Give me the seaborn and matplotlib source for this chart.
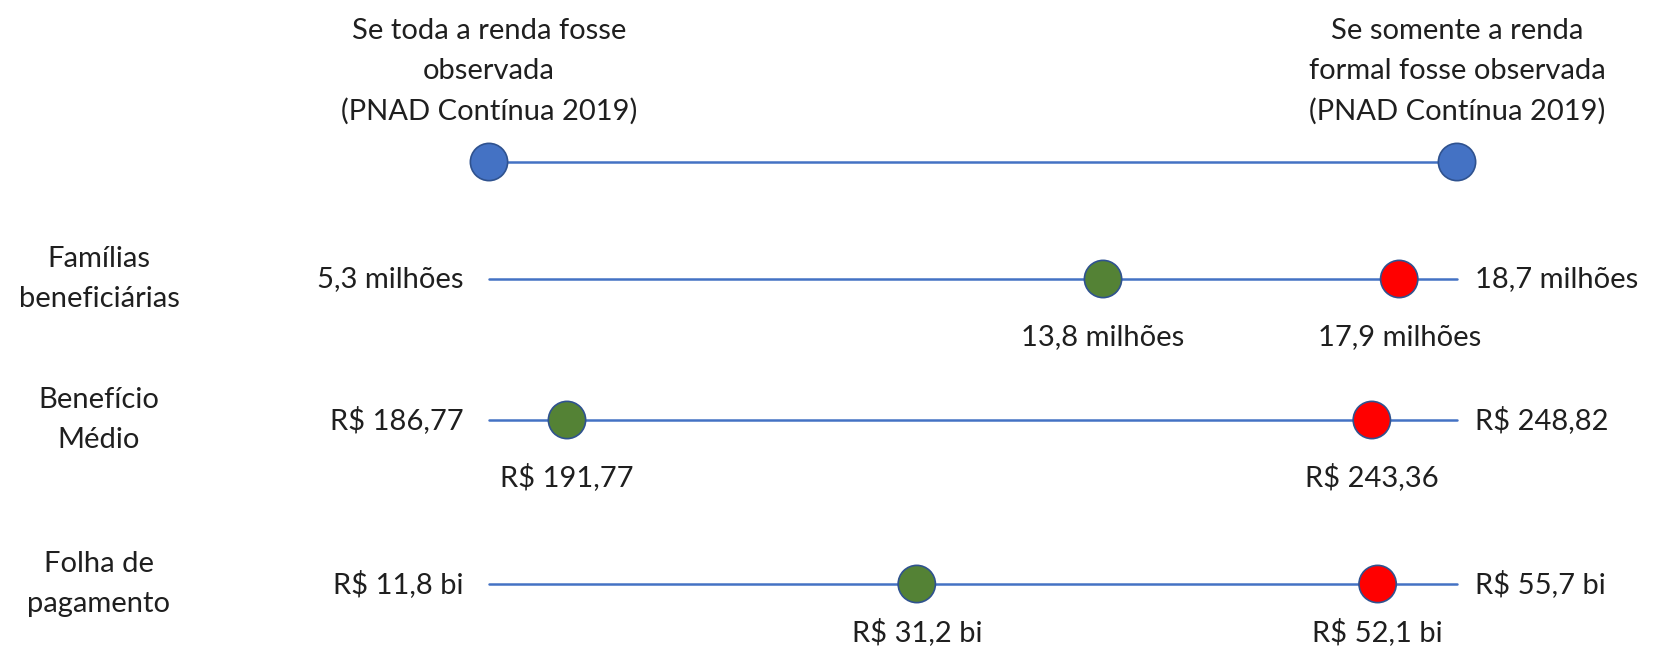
import matplotlib
matplotlib.use("Agg")
import numpy as np
import pandas as pd
import matplotlib.pyplot as plt
import seaborn as sns

# --- Dados ---
categorias = ["Famílias\nbeneficiárias", "Benefício\nMédio", "Folha de\npagamento"]
valor_min = [5.3, 186.77, 11.8]          # se toda a renda fosse observada
valor_max = [18.7, 248.82, 55.7]         # se somente a renda formal fosse observada
valor_verde = [13.8, 191.77, 31.2]
valor_vermelho = [17.9, 243.36, 52.1]
rotulo_min = ["5,3 milhões", "R$ 186,77", "R$ 11,8 bi"]
rotulo_max = ["18,7 milhões", "R$ 248,82", "R$ 55,7 bi"]
rotulo_verde = ["13,8 milhões", "R$ 191,77", "R$ 31,2 bi"]
rotulo_vermelho = ["17,9 milhões", "R$ 243,36", "R$ 52,1 bi"]
cabecalhos = ["Se toda a renda fosse\nobservada\n(PNAD Contínua 2019)",
              "Se somente a renda\nformal fosse observada\n(PNAD Contínua 2019)"]

# --- Layout ---
W, H = 1657, 647
LINHA_Y = [162, 279, 420, 584]     # linha do cabeçalho + 3 indicadores (pixels)
X0_PX, X1_PX = 489, 1457           # onde ficam 0 e 1 da escala normalizada
DESLOC_ROTULO = [58, 57, 48]       # distância do rótulo abaixo da bolinha (px)
COR_LINHA = "#4472C4"
CORES = {"azul": "#4472C4", "verde": "#548235", "vermelho": "#FF0000"}
COR_TEXTO = "#1f1f1f"
FONTE = 21
ESPACO = 1.65

sns.set_theme(style="white")
plt.rcParams["font.family"] = ["Lato", "DejaVu Sans"]

fig = plt.figure(figsize=(W / 100, H / 100), dpi=100)
ax = fig.add_axes([0, 0, 1, 1])
escala = X1_PX - X0_PX
ax.set_xlim(-X0_PX / escala, (W - X0_PX) / escala)
ax.set_ylim(H, 0)
ax.axis("off")

# posição normalizada de cada ponto na régua [min, max]
vmin = np.array(valor_min)
vmax = np.array(valor_max)
pos_verde = (np.array(valor_verde) - vmin) / (vmax - vmin)
pos_vermelho = (np.array(valor_vermelho) - vmin) / (vmax - vmin)

linhas = pd.DataFrame({
    "y": np.repeat(LINHA_Y, 2),
    "pos": [0.0, 1.0] * len(LINHA_Y),
    "linha": np.repeat(range(len(LINHA_Y)), 2),
})
sns.lineplot(data=linhas, x="pos", y="y", units="linha", estimator=None,
             color=COR_LINHA, lw=1.8, sort=False, ax=ax, zorder=1)

pontos = pd.DataFrame({
    "pos": [0.0, 1.0] + list(pos_verde) + list(pos_vermelho),
    "y": [LINHA_Y[0]] * 2 + LINHA_Y[1:] + LINHA_Y[1:],
    "cenario": ["azul"] * 2 + ["verde"] * 3 + ["vermelho"] * 3,
})
sns.scatterplot(data=pontos, x="pos", y="y", hue="cenario", palette=CORES,
                s=720, edgecolor="#2F528F", linewidth=1.2, legend=False,
                ax=ax, zorder=3)

# cabeçalhos acima das bolinhas azuis
for xp, txt in zip([0.0, 1.0], cabecalhos):
    ax.annotate(txt, (xp, LINHA_Y[0]), xytext=(0, 37), textcoords="offset pixels",
                ha="center", va="bottom", fontsize=FONTE, color=COR_TEXTO,
                linespacing=ESPACO)

for i, cat in enumerate(categorias):
    y = LINHA_Y[i + 1]
    ax.annotate(cat, (0.0, y), xytext=(99 - X0_PX, 0), textcoords="offset pixels",
                ha="center", va="center", fontsize=FONTE, color=COR_TEXTO,
                linespacing=ESPACO)
    ax.annotate(rotulo_min[i], (0.0, y), xytext=(-25, 0), textcoords="offset pixels",
                ha="right", va="center", fontsize=FONTE, color=COR_TEXTO)
    ax.annotate(rotulo_max[i], (1.0, y), xytext=(18, 0), textcoords="offset pixels",
                ha="left", va="center", fontsize=FONTE, color=COR_TEXTO)
    for pos, rot in [(pos_verde[i], rotulo_verde[i]), (pos_vermelho[i], rotulo_vermelho[i])]:
        ax.annotate(rot, (pos, y), xytext=(0, -DESLOC_ROTULO[i]), textcoords="offset pixels",
                    ha="center", va="center", fontsize=FONTE, color=COR_TEXTO)

fig.savefig("out.png", dpi=100)
